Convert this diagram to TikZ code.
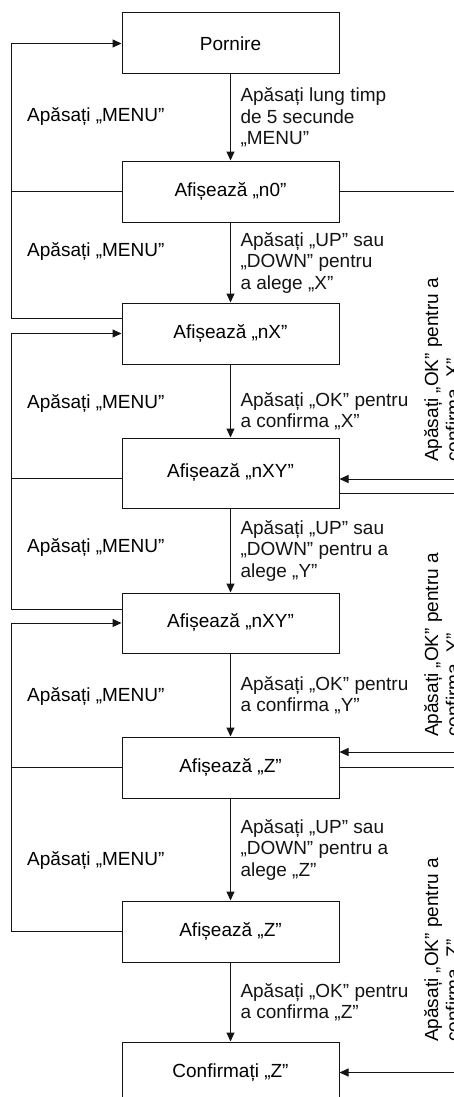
\documentclass[tikz,border=0pt]{standalone}
\usepackage{fontspec}
\setmainfont{Liberation Sans}
\usetikzlibrary{arrows.meta,positioning,calc}
\definecolor{menuline}{RGB}{20,20,20}

\begin{document}
\begin{tikzpicture}[x=1pt,y=1pt,
  every node/.style={font=\fontsize{19}{21.5}\selectfont},
  box/.style={draw=menuline,line width=1pt,minimum width=217pt,
    minimum height=61pt,inner sep=0pt},
  flow/.style={-{Triangle[length=9pt,width=8pt]},line width=1pt,menuline},
  link/.style={line width=1pt,menuline},
  lbl/.style={align=left,anchor=west,inner sep=0pt,xshift=9.5pt},
  menu/.style={anchor=west,inner sep=0pt},
  oklbl/.style={align=left,anchor=north west,rotate=90,inner sep=0pt}]
\useasboundingbox (0,0) rectangle (454,-1097);
\clip (0,0) rectangle (454,-1097);
% states
\node[box] (start) at (230.5,-43.5) {Pornire};
\node[box] (n0) at (230.5,-191.5) {Afișează „n0”};
\node[box] (nx) at (230.5,-333.5) {Afișează „nX”};
\node[box,minimum height=70pt] (nxy) at (230.5,-473) {Afișează „nXY”};
\node[box,minimum height=60pt] (nxyb) at (230.5,-623) {Afișează „nXY”};
\node[box] (z) at (230.5,-767.5) {Afișează „Z”};
\node[box] (zb) at (230.5,-931.5) {Afișează „Z”};
\node[box] (conf) at (230.5,-1072.5) {Confirmați „Z”};
% main chain
\draw[flow] (start) -- (n0)
  node[midway,lbl]{Apăsați lung timp\\de 5 secunde\\„MENU”};
\draw[flow] (n0) -- (nx)
  node[midway,lbl]{Apăsați „UP” sau\\„DOWN” pentru\\a alege „X”};
\draw[flow] (nx) -- (nxy)
  node[midway,lbl,yshift=-10pt]{Apăsați „OK” pentru\\a confirma „X”};
\draw[flow] (nxy) -- (nxyb)
  node[midway,lbl]{Apăsați „UP” sau\\„DOWN” pentru a\\alege „Y”};
\draw[flow] (nxyb) -- (z)
  node[midway,lbl]{Apăsați „OK” pentru\\a confirma „Y”};
\draw[flow] (z) -- (zb)
  node[midway,lbl]{Apăsați „UP” sau\\„DOWN” pentru a\\alege „Z”};
\draw[flow] (zb) -- (conf)
  node[midway,lbl]{Apăsați „OK” pentru\\a confirma „Z”};
% MENU returns (left)
\draw[flow] (n0.west) -- ++(-110,0) |- (start.west);
\draw[link] ([yshift=15.5]nx.west) -| ([xshift=-110]n0.west);
\draw[flow] ([yshift=-5]nxy.west) -- ++(-110,0) |- (nx.west);
\draw[link] ([yshift=14]nxyb.west) -| ([xshift=-110,yshift=-5]nxy.west);
\draw[flow] (z.west) -- ++(-110,0) |- (nxyb.west);
\draw[link] (zb.west) -| ([xshift=-110]z.west);
\node[menu] (m1) at (27,-117) {Apăsați „MENU”};
\node[menu] (m2) at (27,-252) {Apăsați „MENU”};
\node[menu] (m3) at (27,-404) {Apăsați „MENU”};
\node[menu] (m4) at (27,-548) {Apăsați „MENU”};
\node[menu] (m5) at (27,-697) {Apăsați „MENU”};
\node[menu] (m6) at (27,-860) {Apăsați „MENU”};
% OK shortcuts (right, cut by the page edge)
\draw[flow] (n0.east) -- ++(130,0) |- ([yshift=-6]nxy.east);
\draw[flow] ([yshift=-20]nxy.east) -- ++(130,0) |- ([yshift=15.5]z.east);
\draw[flow] (z.east) -- ++(130,0) |- (conf.east);
\node[oklbl] (okx) at (424,-462) {Apăsați „OK” pentru a\\confirma „X”};
\node[oklbl] (oky) at (424,-737) {Apăsați „OK” pentru a\\confirma „Y”};
\node[oklbl] (okz) at (424,-1042) {Apăsați „OK” pentru a\\confirma „Z”};
\end{tikzpicture}
\end{document}
